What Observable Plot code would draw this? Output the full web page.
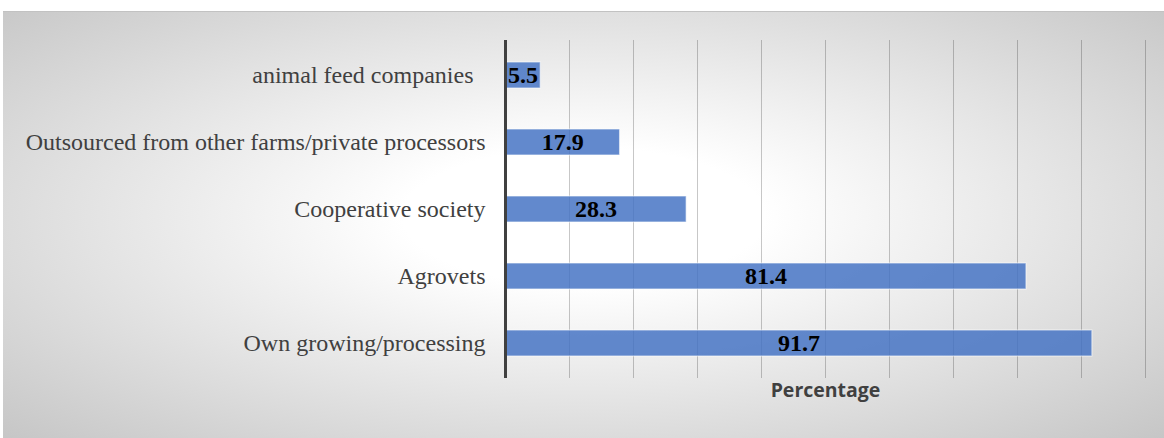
<!DOCTYPE html>
<html>
<head>
<meta charset="utf-8">
<script src="https://cdn.jsdelivr.net/npm/d3@7"></script>
<script src="https://cdn.jsdelivr.net/npm/@observablehq/plot@0.6"></script>
<style>
  html, body { margin: 0; padding: 0; background: #fff; }
  #wrap { position: relative; width: 1164px; height: 438px; overflow: hidden; }
  #bg { position: absolute; left: 3px; top: 11px; right: 0; bottom: 0;
        background: radial-gradient(ellipse farthest-corner at 50% 48%, #ffffff 0%, #ffffff 22%, #c6c6c6 100%);
        border-top: 1px solid #c2c2c2; }
  #chart { position: absolute; left: 0; top: 0; }
</style>
</head>
<body>
<div id="wrap"><div id="bg"></div><div id="chart"></div></div>
<script>
const categories = [
  "animal feed companies\u00a0\u00a0",
  "Outsourced from other farms/private processors",
  "Cooperative society",
  "Agrovets",
  "Own growing/processing"
];
const values = [5.5, 17.9, 28.3, 81.4, 91.7];
const gridTicks = [10, 20, 30, 40, 50, 60, 70, 80, 90, 100];
const axisLabel = "Percentage";

const data = categories.map((c, i) => ({category: c, value: values[i]}));

const plot = Plot.plot({
  width: 1164,
  height: 438,
  marginLeft: 505,
  marginRight: 19,
  marginTop: 40,
  marginBottom: 60,
  style: {background: "transparent"},
  x: {domain: [0, 100], axis: null},
  y: {domain: categories, paddingInner: 0.61, paddingOuter: 0.305, axis: null},
  marks: [
    Plot.gridX(gridTicks, {stroke: "#000", strokeOpacity: 0.22, strokeWidth: 1}),
    Plot.barX(data, {x: "value", y: "category", fill: "#4472C4", fillOpacity: 0.84,
      stroke: "#ffffff", strokeOpacity: 0.55, strokeWidth: 1.2}),
    Plot.ruleX([0], {stroke: "#404040", strokeWidth: 3}),
    Plot.axisY({tickSize: 0, tickPadding: 20, fontSize: 24, fontFamily: "Liberation Serif",
      fill: "#404040", label: null}),
    Plot.text(data, {x: d => d.value / 2, y: "category", text: d => d.value.toFixed(1),
      fontFamily: "Liberation Serif", fontWeight: "bold", fontSize: 24, fill: "#000"}),
    Plot.text([axisLabel], {frameAnchor: "bottom", dy: 18, text: d => d,
      fontFamily: "Open Sans", fontWeight: "bold", fontSize: 19.5, fill: "#404040"})
  ]
});
document.getElementById("chart").appendChild(plot);
</script>
</body>
</html>
